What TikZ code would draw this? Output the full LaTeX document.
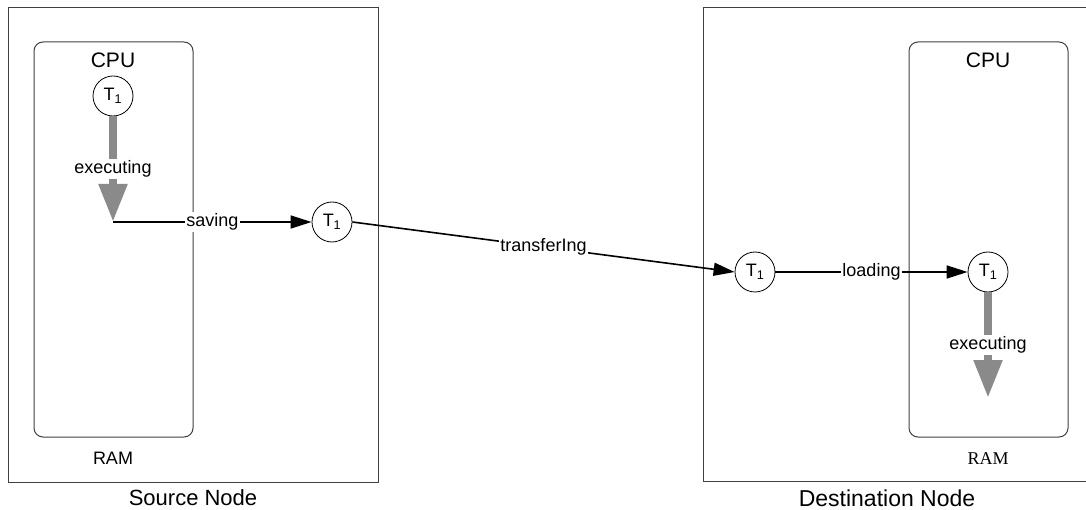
\documentclass[tikz,border=0pt]{standalone}
\usepackage{fontspec}
\setmainfont{Liberation Sans}
\newfontfamily\ramserif{Liberation Serif}
\usetikzlibrary{arrows.meta}
\definecolor{boxline}{HTML}{404040}
\definecolor{execgray}{HTML}{8A8A8A}

\tikzset{
  hostbox/.style={draw=boxline, line width=1pt},
  cpubox/.style={draw=boxline, line width=1pt, rounded corners=9pt},
  bigtext/.style={font=\fontsize{21}{24}\selectfont, inner sep=0pt},
  smalltext/.style={font=\fontsize{18}{21}\selectfont},
  task/.style={circle, draw=black, line width=0.8pt, minimum size=40pt, inner sep=0pt, fill=white, font=\fontsize{18}{21}\selectfont},
  flow/.style={line width=1.6pt, -{Triangle[length=21pt, width=13pt]}},
  execarrow/.style={draw=execgray, line width=8pt, -{Triangle[length=38pt, width=27pt]}},
  edgelabel/.style={fill=white, inner sep=1.5pt, font=\fontsize{18}{21}\selectfont, text=black},
}

\begin{document}
\begin{tikzpicture}[x=1pt, y=-1pt]
  \useasboundingbox (0,0) rectangle (1086,510);
  \clip (0,0) rectangle (1086,510);
  \fill[white] (0,0) rectangle (1086,510);

  % host machines
  \draw[hostbox] (8,8) rectangle (378,482);
  \draw[hostbox] (703,8) rectangle (1100,481);
  \node[bigtext, font=\fontsize{22}{25}\selectfont] (srcname) at (193,498) {Source Node};
  \node[bigtext, font=\fontsize{23}{26}\selectfont] (dstname) at (887,498) {Destination Node};

  % CPU regions inside RAM
  \draw[cpubox] (34,42) rectangle (193,437);
  \draw[cpubox] (909,42) rectangle (1068,437);
  \node[bigtext] (cpuA) at (113,60) {CPU};
  \node[bigtext] (cpuB) at (988,60) {CPU};
  \node[smalltext] (ramA) at (113,458) {RAM};
  \node[smalltext, font=\ramserif\fontsize{18}{21}\selectfont] (ramB) at (988,459) {RAM};

  % task instances
  \node[task] (c1) at (113,96) {T\textsubscript{1}};
  \node[task] (c2) at (332,222) {T\textsubscript{1}};
  \node[task] (c3) at (755,272) {T\textsubscript{1}};
  \node[task] (c4) at (988,272) {T\textsubscript{1}};
  \coordinate (endA) at (113,222);
  \coordinate (endB) at (988,398);

  % execution on the source CPU, then saving
  \draw[execarrow] (c1.south) -- (endA)
    node[edgelabel, midway] {executing};
  \draw[flow] (endA) -- (c2.west)
    node[edgelabel, midway] {saving};

  % transfer between hosts
  \draw[flow] (c2.east) -- (c3.west)
    node[edgelabel, midway] {transferIng};

  % loading and execution on the destination CPU
  \draw[flow] (c3.east) -- (c4.west)
    node[edgelabel, midway] {loading};
  \draw[execarrow] (c4.south) -- (endB)
    node[edgelabel, midway] {executing};
\end{tikzpicture}
\end{document}
